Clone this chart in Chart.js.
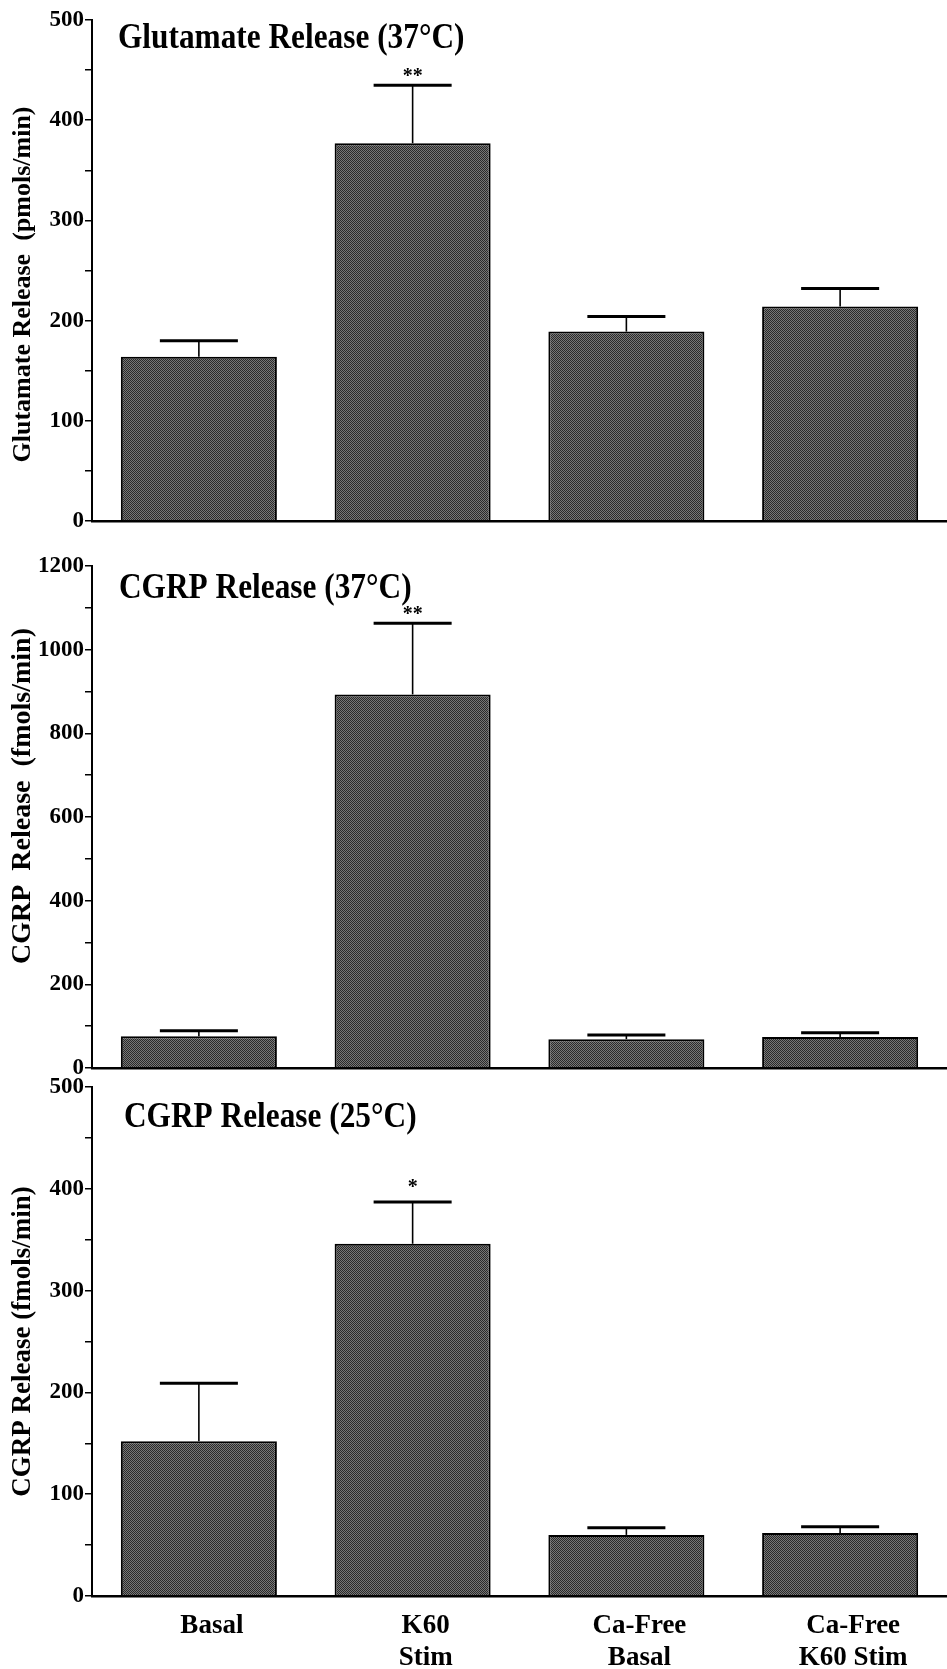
<!DOCTYPE html>
<html><head><meta charset="utf-8">
<script src="https://cdn.jsdelivr.net/npm/chart.js@4.4.0/dist/chart.umd.min.js"></script>
<style>
html,body{margin:0;padding:0;background:#fff;}
body{width:947px;height:1669px;position:relative;overflow:hidden;}
canvas{position:absolute;left:0;}
</style></head><body>
<canvas id="c1" width="947" height="548" style="top:0px"></canvas>
<canvas id="c2" width="947" height="548" style="top:540px"></canvas>
<canvas id="c3" width="947" height="607" style="top:1062px"></canvas>
<script>
// ---- data ----
const categories = ['Basal', ['K60', 'Stim'], ['Ca-Free', 'Basal'], ['Ca-Free', 'K60 Stim']];
const glutMean = [164, 377, 189, 214];
const glutErr = [16, 58, 15, 18];
const glutSig = ['', '**', '', ''];
const cgrp37Mean = [76, 893, 69, 74];
const cgrp37Err = [13, 170, 10, 10];
const cgrp37Sig = ['', '**', '', ''];
const cgrp25Mean = [152, 346, 60, 62];
const cgrp25Err = [57, 41, 7, 6];
const cgrp25Sig = ['', '*', '', ''];
const glutAxisMax = 500, glutMinorStep = 50, glutMajorStep = 100;
const cgrp37AxisMax = 1200, cgrp37MinorStep = 100, cgrp37MajorStep = 200;
const cgrp25AxisMax = 500, cgrp25MinorStep = 50, cgrp25MajorStep = 100;
const titles = ['Glutamate Release (37°C)', 'CGRP Release (37°C)', 'CGRP Release (25°C)'];
const yTitles = ['Glutamate Release  (pmols/min)', 'CGRP  Release  (fmols/min)', 'CGRP Release (fmols/min)'];

const FONT = "'Liberation Serif', 'Times New Roman', serif";

function makePattern() {
  const c = document.createElement('canvas');
  c.width = 2; c.height = 2;
  const x = c.getContext('2d');
  x.fillStyle = '#777777'; x.fillRect(0, 0, 2, 2);
  x.fillStyle = '#2a2a2a'; x.fillRect(0, 0, 1, 1); x.fillRect(1, 1, 1, 1);
  return x.createPattern(c, 'repeat');
}

function makeChart(id, mean, err, sig, max, minor, major, title, yTitle, opts) {
  const ctx = document.getElementById(id).getContext('2d');
  const pattern = makePattern();
  const plugin = {
    id: 'extras_' + id,
    afterDatasetsDraw(chart) {
      const c = chart.ctx;
      const meta = chart.getDatasetMeta(0);
      const ys = chart.scales.y;
      c.save();
      c.strokeStyle = '#000';
      meta.data.forEach((bar, i) => {
        const top = ys.getPixelForValue(mean[i] + err[i]);
        const w = bar.width;
        c.lineWidth = 1.6;
        c.beginPath(); c.moveTo(bar.x, bar.y); c.lineTo(bar.x, top); c.stroke();
        c.lineWidth = 3;
        c.beginPath(); c.moveTo(bar.x - w / 4, top); c.lineTo(bar.x + w / 4, top); c.stroke();
        if (sig[i]) {
          c.fillStyle = '#000';
          c.font = 'bold 20px ' + FONT;
          c.textAlign = 'center';
          c.textBaseline = 'alphabetic';
          c.fillText(sig[i], bar.x, top - opts.sigGap);
        }
      });
      c.restore();
      // panel title
      const a = chart.chartArea;
      c.save();
      c.translate(a.left + opts.titleDx, a.top + opts.titleDy);
      c.scale(0.87, 1);
      c.fillStyle = '#000';
      c.font = 'bold 36px ' + FONT;
      c.textAlign = 'left';
      c.textBaseline = 'alphabetic';
      c.fillText(title, 0, 0);
      c.restore();
      // y-axis title
      c.save();
      c.translate(23, (a.top + a.bottom) / 2 + opts.yTitleDy);
      c.rotate(-Math.PI / 2);
      c.fillStyle = '#000';
      c.font = 'bold ' + opts.yTitleSize + 'px ' + FONT;
      c.textAlign = 'center';
      c.textBaseline = 'middle';
      c.fillText(yTitle, 0, 0);
      c.restore();
    }
  };
  return new Chart(ctx, {
    type: 'bar',
    data: {
      labels: categories,
      datasets: [{
        data: mean,
        backgroundColor: pattern,
        borderColor: '#000',
        borderWidth: 2,
        borderSkipped: 'start',
        barPercentage: 0.73,
        categoryPercentage: 1.0
      }]
    },
    options: {
      responsive: false,
      animation: false,
      events: [],
      layout: { padding: { top: opts.padTop, left: 0, right: 0, bottom: 0 } },
      plugins: { legend: { display: false }, tooltip: { enabled: false }, title: { display: false } },
      scales: {
        x: {
          offset: true,
          grid: { display: false, drawTicks: false, tickLength: 0 },
          border: { display: true, color: '#000', width: 2.5 },
          ticks: {
            display: !!opts.showX,
            color: '#000',
            font: { family: FONT, weight: 'bold', size: 27, lineHeight: 1.15 },
            padding: 15,
            labelOffset: 13,
            maxRotation: 0,
            autoSkip: false
          },
          afterFit(s) { s.height = opts.xHeight; }
        },
        y: {
          min: 0, max: max,
          grid: { display: true, drawOnChartArea: false, drawTicks: true, tickLength: 7, color: '#000', lineWidth: 1.5 },
          border: { display: true, color: '#000', width: 2 },
          ticks: {
            stepSize: minor,
            color: '#000',
            padding: 1,
            font: { family: FONT, weight: 'bold', size: 23 },
            callback: (v) => (v % major === 0 ? String(v) : '')
          },
          title: { display: false },
          afterFit(s) { s.width = 92; }
        }
      }
    },
    plugins: [plugin]
  });
}

makeChart('c1', glutMean, glutErr, glutSig, glutAxisMax, glutMinorStep, glutMajorStep, titles[0], yTitles[0],
  { padTop: 20, xHeight: 27, titleDx: 26, titleDy: 28, sigGap: 3, yTitleSize: 26, yTitleDy: 14 });
makeChart('c2', cgrp37Mean, cgrp37Err, cgrp37Sig, cgrp37AxisMax, cgrp37MinorStep, cgrp37MajorStep, titles[1], yTitles[1],
  { padTop: 26, xHeight: 20, titleDx: 27, titleDy: 32, sigGap: 3, yTitleSize: 28, yTitleDy: -21 });
makeChart('c3', cgrp25Mean, cgrp25Err, cgrp25Sig, cgrp25AxisMax, cgrp25MinorStep, cgrp25MajorStep, titles[2], yTitles[2],
  { padTop: 25, xHeight: 73, titleDx: 32, titleDy: 40, showX: true, sigGap: 9, yTitleSize: 27, yTitleDy: 0 });
</script>
</body></html>
